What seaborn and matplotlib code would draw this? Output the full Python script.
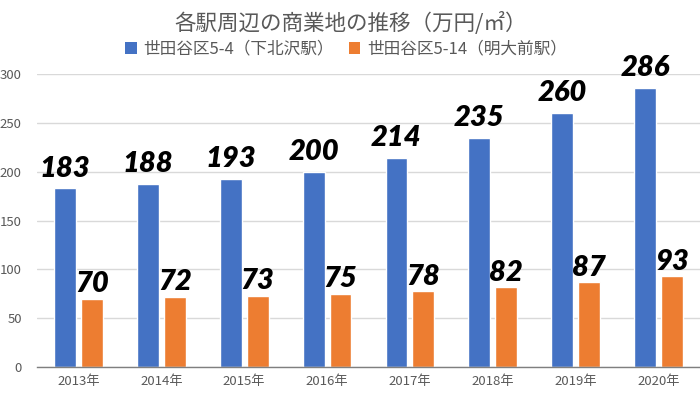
import matplotlib
matplotlib.use("Agg")
import matplotlib.pyplot as plt
import seaborn as sns
import pandas as pd

years = ["2013年", "2014年", "2015年", "2016年", "2017年", "2018年", "2019年", "2020年"]
shimokita = [183, 188, 193, 200, 214, 235, 260, 286]
meidaimae = [70, 72, 73, 75, 78, 82, 87, 93]
series_names = ["世田谷区5-4（下北沢駅）", "世田谷区5-14（明大前駅）"]
title = "各駅周辺の商業地の推移（万円/㎡）"
colors = ["#4472C4", "#ED7D31"]

df = pd.DataFrame({
    "year": years * 2,
    "value": shimokita + meidaimae,
    "series": [series_names[0]] * len(years) + [series_names[1]] * len(years),
})

sns.set_theme(style="white")
plt.rcParams["font.family"] = ["Noto Sans CJK JP", "DejaVu Sans"]

fig = plt.figure(figsize=(7, 3.94), dpi=100)
ax = fig.add_axes([37 / 700, 1 - 367 / 394, 663 / 700, (367 - 74.3) / 394])

sns.barplot(data=df, x="year", y="value", hue="series", palette=colors,
            width=0.65, gap=0.19, ax=ax, legend=False, saturation=1)

ax.set_ylim(0, 300)
ax.set_xlim(-0.5, len(years) - 0.5)
ax.set_yticks(range(0, 301, 50))
ax.yaxis.grid(True, color="#D9D9D9", linewidth=1)
ax.set_axisbelow(True)
for s in ["left", "right", "top"]:
    ax.spines[s].set_visible(False)
ax.spines["bottom"].set_color("#7F7F7F")
ax.spines["bottom"].set_linewidth(1)
ax.tick_params(axis="both", length=0, labelsize=9.5, colors="#595959")
ax.tick_params(axis="y", pad=11)
ax.tick_params(axis="x", pad=6)
ax.set_xlabel("")
ax.set_ylabel("")

pads = [5.0, 1.0]
for cont, p in zip(ax.containers, pads):
    ax.bar_label(cont, labels=[str(int(round(b.get_height()))) for b in cont],
                 padding=p, fontsize=21, fontweight="heavy", fontstyle="italic",
                 family=["Lato", "DejaVu Sans"], color="black")

fig.text(351 / 700, 1 - 23 / 394, title, ha="center", va="center",
         fontsize=15.5, color="#595959")

from matplotlib.patches import Patch
handles = [Patch(facecolor=c, edgecolor="none") for c in colors]
fig.legend(handles, series_names, loc="center", bbox_to_anchor=(346 / 700, 1 - 49 / 394),
           ncol=2, frameon=False, fontsize=12, labelcolor="#595959",
           handlelength=0.7, handleheight=0.7, handletextpad=0.4, columnspacing=0.9)

fig.savefig("out.png", dpi=100)
